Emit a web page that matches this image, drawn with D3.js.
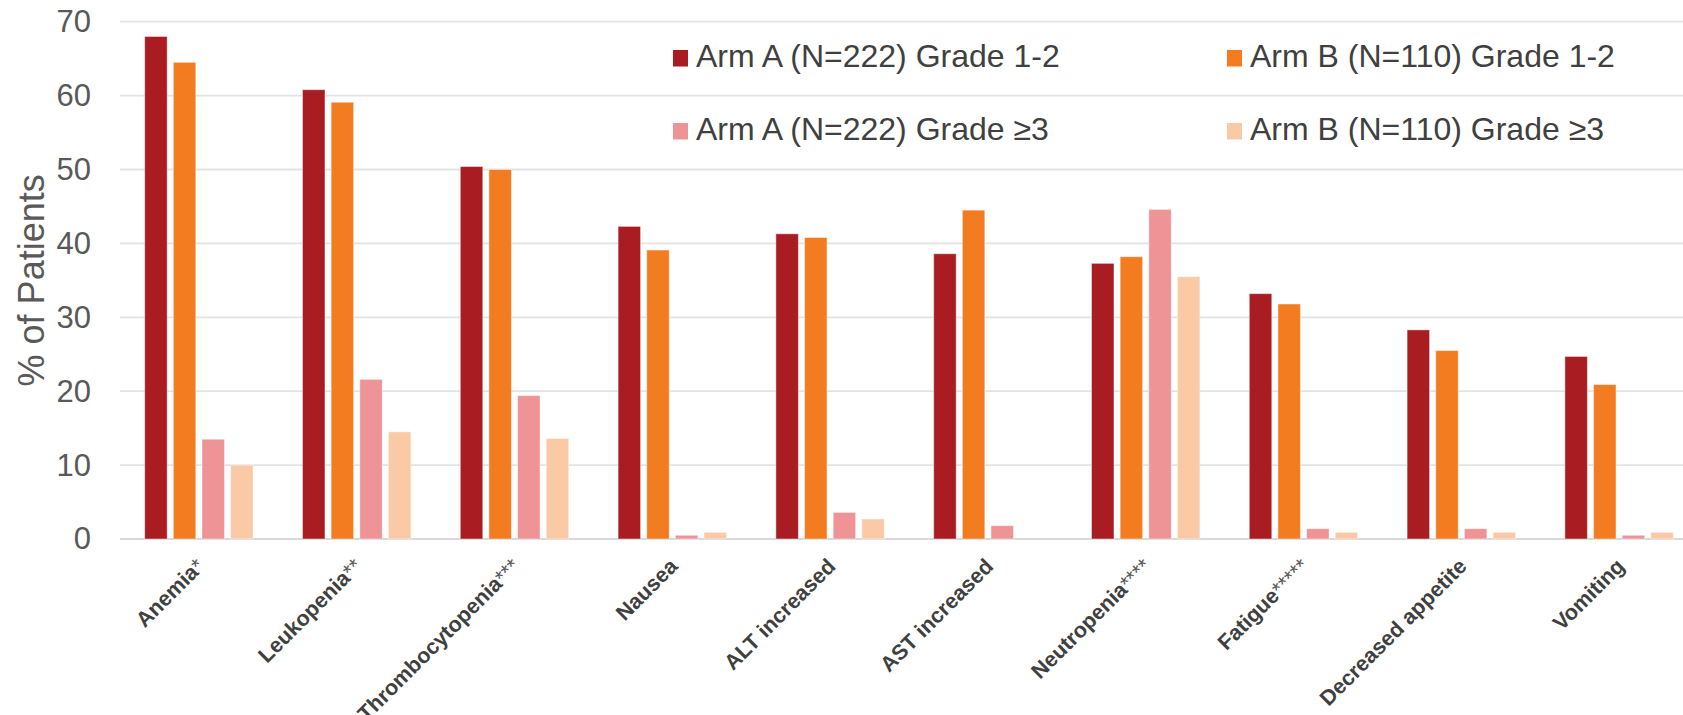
<!DOCTYPE html>
<html>
<head>
<meta charset="utf-8">
<script src="https://cdn.jsdelivr.net/npm/d3@7"></script>
<style>
  html, body { margin: 0; padding: 0; background: #ffffff; }
  svg { display: block; font-family: "Liberation Sans", Arial, sans-serif; }
</style>
</head>
<body>
<svg id="chart" width="1683" height="715"></svg>
<script>
// Adverse events by arm and grade (% of patients)
const categories = ["Anemia", "Leukopenia", "Thrombocytopenia", "Nausea", "ALT increased",
                    "AST increased", "Neutropenia", "Fatigue", "Decreased appetite", "Vomiting"];
const footnoteMarks = ["*", "**", "***", "", "", "", "****", "*****", "", ""];

const seriesNames = ["Arm A (N=222) Grade 1-2", "Arm B (N=110) Grade 1-2",
                     "Arm A (N=222) Grade \u22653", "Arm B (N=110) Grade \u22653"];
const seriesColors = ["#a81c22", "#f37c20", "#ee9497", "#facaa6"];

const armAGrade12 = [68.0, 60.8, 50.4, 42.3, 41.3, 38.6, 37.3, 33.2, 28.3, 24.7];
const armBGrade12 = [64.5, 59.1, 50.0, 39.1, 40.8, 44.5, 38.2, 31.8, 25.5, 20.9];
const armAGrade3  = [13.5, 21.6, 19.4, 0.5, 3.6, 1.8, 44.6, 1.4, 1.4, 0.5];
const armBGrade3  = [10.0, 14.5, 13.6, 0.9, 2.7, 0.0, 35.5, 0.9, 0.9, 0.9];

const yTicks = [0, 10, 20, 30, 40, 50, 60, 70];
const yTitle = "% of Patients";

const seriesValues = [armAGrade12, armBGrade12, armAGrade3, armBGrade3];

const svg = d3.select("#chart");
const plotLeft = 120, plotRight = 1698, gridRight = 1683;
const plotTop = 21.7, plotBottom = 539;

const x0 = d3.scaleBand()
  .domain(categories)
  .range([plotLeft, plotRight])
  .paddingInner(0.313)
  .paddingOuter(0.1565);

const x1 = d3.scaleBand()
  .domain(d3.range(seriesNames.length))
  .range([0, x0.bandwidth()])
  .paddingInner(0.215)
  .paddingOuter(0);

const y = d3.scaleLinear().domain([0, 70]).range([plotBottom, plotTop]);

// horizontal gridlines
svg.append("g")
  .selectAll("line")
  .data(yTicks)
  .join("line")
  .attr("x1", plotLeft)
  .attr("x2", gridRight)
  .attr("y1", d => y(d))
  .attr("y2", d => y(d))
  .attr("stroke", d => d === 0 ? "#d9d9d9" : "#e3e3e3")
  .attr("stroke-width", 1.8);

// y axis labels
const yAxis = d3.axisLeft(y).tickValues(yTicks).tickSize(0).tickPadding(0);
const yg = svg.append("g")
  .attr("transform", `translate(${plotLeft - 29},0)`)
  .call(yAxis);
yg.select(".domain").remove();
yg.selectAll("text")
  .attr("fill", "#595959")
  .attr("font-size", 31)
  .attr("font-family", "'Liberation Sans', Arial, sans-serif");

svg.append("text")
  .attr("transform", `translate(44,${(plotTop + plotBottom) / 2}) rotate(-90)`)
  .attr("text-anchor", "middle")
  .attr("fill", "#595959")
  .attr("font-size", 36)
  .text(yTitle);

// bars
const groups = svg.append("g")
  .selectAll("g")
  .data(categories)
  .join("g")
  .attr("transform", d => `translate(${x0(d)},0)`);

groups.selectAll("rect")
  .data((c, ci) => seriesValues.map((vals, si) => ({ si, v: vals[ci] })))
  .join("rect")
  .attr("x", d => x1(d.si))
  .attr("width", x1.bandwidth())
  .attr("y", d => y(d.v))
  .attr("height", d => y(0) - y(d.v))
  .attr("fill", d => seriesColors[d.si])
  .attr("stroke", "#ffffff")
  .attr("stroke-opacity", d => d.v > 0 ? 0.45 : 0)
  .attr("stroke-width", 1);

// category labels, rotated
const xl = svg.append("g")
  .selectAll("text")
  .data(categories)
  .join("text")
  .attr("transform", d => `translate(${x0(d) + x0.bandwidth() / 2 - 4},${plotBottom + 18}) rotate(-45)`)
  .attr("text-anchor", "end")
  .attr("dy", "0.7em")
  .attr("fill", "#404040")
  .attr("font-size", 21.5)
  .attr("font-weight", "bold");
xl.append("tspan").text(d => d);
xl.append("tspan")
  .attr("font-weight", "normal")
  .attr("fill", "#595959")
  .text((d, i) => footnoteMarks[i]);

// legend
const legendPos = [[673, 67], [1227, 67], [673, 140], [1227, 140]];
const legend = svg.append("g")
  .selectAll("g")
  .data(seriesNames)
  .join("g")
  .attr("transform", (d, i) => `translate(${legendPos[i][0]},${legendPos[i][1]})`);
legend.append("rect")
  .attr("x", 0).attr("y", -17)
  .attr("width", 15).attr("height", 16.5)
  .attr("fill", (d, i) => seriesColors[i]);
legend.append("text")
  .attr("x", 23)
  .attr("y", 0)
  .attr("fill", "#404040")
  .attr("font-size", 32)
  .text(d => d);
</script>
</body>
</html>
